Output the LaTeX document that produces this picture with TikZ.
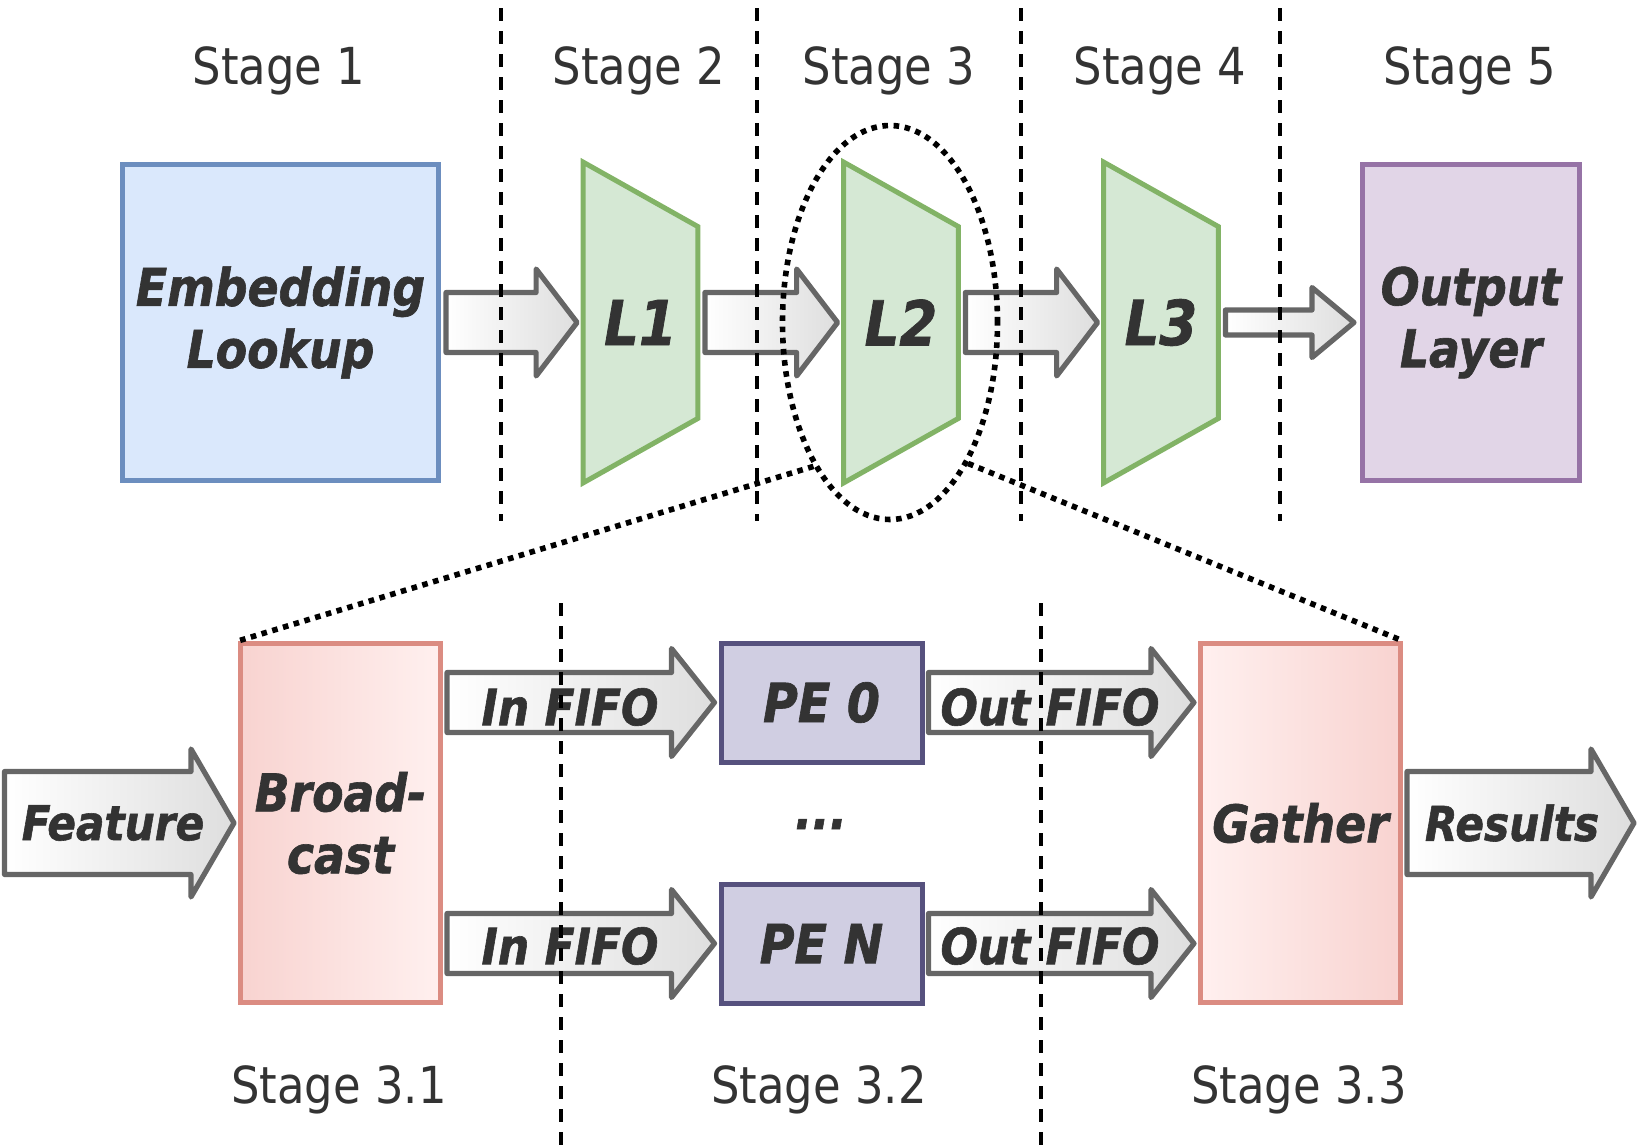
\documentclass[tikz,border=0pt]{standalone}
\usepackage{fontspec}
\setmainfont{DejaVu Sans}[FakeStretch=0.88, BoldItalicFeatures={FakeBold=1.2}]
\usetikzlibrary{shapes.geometric,calc,backgrounds}
\definecolor{txtc}{HTML}{333333}
\definecolor{embfill}{HTML}{DAE8FC}
\definecolor{embline}{HTML}{6C8EBF}
\definecolor{lfill}{HTML}{D5E8D4}
\definecolor{lline}{HTML}{82B366}
\definecolor{outfill}{HTML}{E1D5E7}
\definecolor{outline}{HTML}{9673A6}
\definecolor{pefill}{HTML}{D0CEE2}
\definecolor{peline}{HTML}{56517E}
\definecolor{pinkdark}{HTML}{F8D3D0}
\definecolor{pinklight}{HTML}{FFF0EF}
\definecolor{pinkline}{HTML}{DB8C82}
\definecolor{arrline}{HTML}{666666}
\definecolor{arrR}{HTML}{DEDEDE}
\newcommand\myblkarrow[5]{%
  \path[blkarrow] let \p1=(#1), \p2=(#2) in
    (\x1,\y2+#3) -- (\x2-#5,\y2+#3) -- (\x2-#5,\y2+#4) -- (\x2,\y2)
    -- (\x2-#5,\y2-#4) -- (\x2-#5,\y2-#3) -- (\x1,\y2-#3) -- cycle;}
\begin{document}
\begin{tikzpicture}[x=0.5pt,y=-0.5pt,
  boldlbl/.style={font=\bfseries\itshape\fontsize{26}{31}\selectfont, text=txtc},
  box/.style={boldlbl, draw, line width=2.5pt, align=center, inner sep=0pt},
  lnode/.style={boldlbl, font=\bfseries\itshape\fontsize{31}{36}\selectfont,
    minimum width=57pt, minimum height=160pt, inner sep=0pt},
  trap/.style={draw=lline, fill=lfill, line width=2.5pt, line join=miter},
  blkarrow/.style={draw=arrline, line width=2.6pt, line join=round,
    left color=white, right color=arrR},
  arrlbl/.style={boldlbl, font=\bfseries\itshape\fontsize{25}{30}\selectfont, inner sep=0pt},
  stagelbl/.style={font=\fontsize{25.5}{30}\selectfont, text=txtc, anchor=base, inner sep=0pt},
  sepline/.style={black, line width=2pt, dash pattern=on 6.5pt off 5pt},
  dotline/.style={black, line width=2.8pt, dash pattern=on 2.8pt off 2.8pt}]
\useasboundingbox (0,0) rectangle (1640,1146);

% ---------- top row ----------
\node[box, fill=embfill, draw=embline, minimum width=158pt, minimum height=158pt]
  (emb) at (280.5,322.5) {Embedding\\Lookup};
\node[lnode] (L1) at (640.5,322.5) {L1};
\node[lnode] (L2) at (901,322.5) {L2};
\node[lnode] (L3) at (1161,322.5) {L3};
\node[box, fill=outfill, draw=outline, minimum width=108.5pt, minimum height=158pt]
  (out) at (1471,322.5) {Output\\Layer};

\begin{scope}[on background layer]
  \foreach \n in {L1,L2,L3}{
    \draw[trap] (\n.north west) -- ($(\n.north east)+(0,64.5)$)
      -- ($(\n.south east)+(0,-64.5)$) -- (\n.south west) -- cycle;
  }
\end{scope}

\myblkarrow{$(emb.east)+(5,0)$}{$(L1.west)+(-6,0)$}{15pt}{26.75pt}{20.5pt}
\myblkarrow{$(L1.east)+(7,0)$}{$(L2.west)+(-6,0)$}{15pt}{26.75pt}{20.5pt}
\myblkarrow{$(L2.east)+(7,0)$}{$(L3.west)+(-6,0)$}{15pt}{26.75pt}{20.5pt}
\myblkarrow{$(L3.east)+(7,0)$}{$(out.west)+(-6,0)$}{6.25pt}{17.5pt}{21pt}

% stage labels
\node[stagelbl] (s1) at (279,84) {Stage 1};
\node[stagelbl] (s2) at (639,84) {Stage 2};
\node[stagelbl] (s3) at (889,84) {Stage 3};
\node[stagelbl] (s4) at (1160,84) {Stage 4};
\node[stagelbl] (s5) at (1470,84) {Stage 5};

% ---------- bottom row ----------
\node[box, draw=pinkline, left color=pinkdark, right color=pinklight,
  minimum width=100pt, minimum height=179.5pt] (bcast) at (340.5,823) {Broad-\\cast};
\node[box, draw=pinkline, left color=pinklight, right color=pinkdark,
  minimum width=100pt, minimum height=179.5pt] (gather) at (1300.5,823) {Gather};
\node[box, fill=pefill, draw=peline, minimum width=100.5pt, minimum height=59.5pt,
  font=\bfseries\itshape\fontsize{27}{32}\selectfont] (pe0) at (821.5,702.5) {PE 0};
\node[box, fill=pefill, draw=peline, minimum width=100.5pt, minimum height=59.5pt,
  font=\bfseries\itshape\fontsize{27}{32}\selectfont] (peN) at (821.5,943.5) {PE N};
\node[boldlbl, anchor=base, inner sep=0pt] (dots) at (821,829) {...};

\coordinate (fin) at (4.5,823);
\coordinate (rout) at (1634,823);

\myblkarrow{fin}{$(bcast.west)+(-4,0)$}{25.75pt}{37pt}{21.5pt}
\myblkarrow{$(gather.east)+(4,0)$}{rout}{25.75pt}{37pt}{21.5pt}
\myblkarrow{$(bcast.east)+(4,0)$}{$(pe0.west)+(-4,0)$}{15pt}{27pt}{21.5pt}
\myblkarrow{$(bcast.east)+(4,0)$}{$(peN.west)+(-4,0)$}{15pt}{27pt}{21.5pt}
\myblkarrow{$(pe0.east)+(4,0)$}{$(gather.west |- pe0.east)+(-4,0)$}{15pt}{27pt}{21.5pt}
\myblkarrow{$(peN.east)+(4,0)$}{$(gather.west |- peN.east)+(-4,0)$}{15pt}{27pt}{21.5pt}

\node[arrlbl, font=\bfseries\itshape\fontsize{24}{29}\selectfont] (featlbl) at (113,823) {Feature};
\node[arrlbl, font=\bfseries\itshape\fontsize{24}{29}\selectfont] (reslbl) at (1512,823) {Results};
\node[arrlbl] (if0) at (570,707) {In FIFO};
\node[arrlbl] (ifN) at (570,946) {In FIFO};
\node[arrlbl] (of0) at (1050,707) {Out FIFO};
\node[arrlbl] (ofN) at (1050,946) {Out FIFO};

\node[stagelbl] (s31) at (339,1103) {Stage 3.1};
\node[stagelbl] (s32) at (819,1103) {Stage 3.2};
\node[stagelbl] (s33) at (1299,1103) {Stage 3.3};

% ---------- zoom ellipse ----------
\node[draw, dotline, ellipse, minimum width=107.5pt, minimum height=197pt, inner sep=0pt]
  (ell) at (890,322.5) {};
\draw[dotline] (ell.242) -- (bcast.north west);
\draw[dotline] (ell.299) -- (gather.north east);

% ---------- separators ----------
\foreach \x/\n in {501/a,757/b,1021/c,1280/d}{
  \coordinate (top\n) at (\x,8);
  \coordinate (bot\n) at (\x,521);
  \draw[sepline] (top\n) -- (bot\n);
}
\foreach \x/\n in {561/e,1041/f}{
  \coordinate (top\n) at (\x,603);
  \coordinate (bot\n) at (\x,1146);
  \draw[sepline] (top\n) -- (bot\n);
}
\end{tikzpicture}
\end{document}
